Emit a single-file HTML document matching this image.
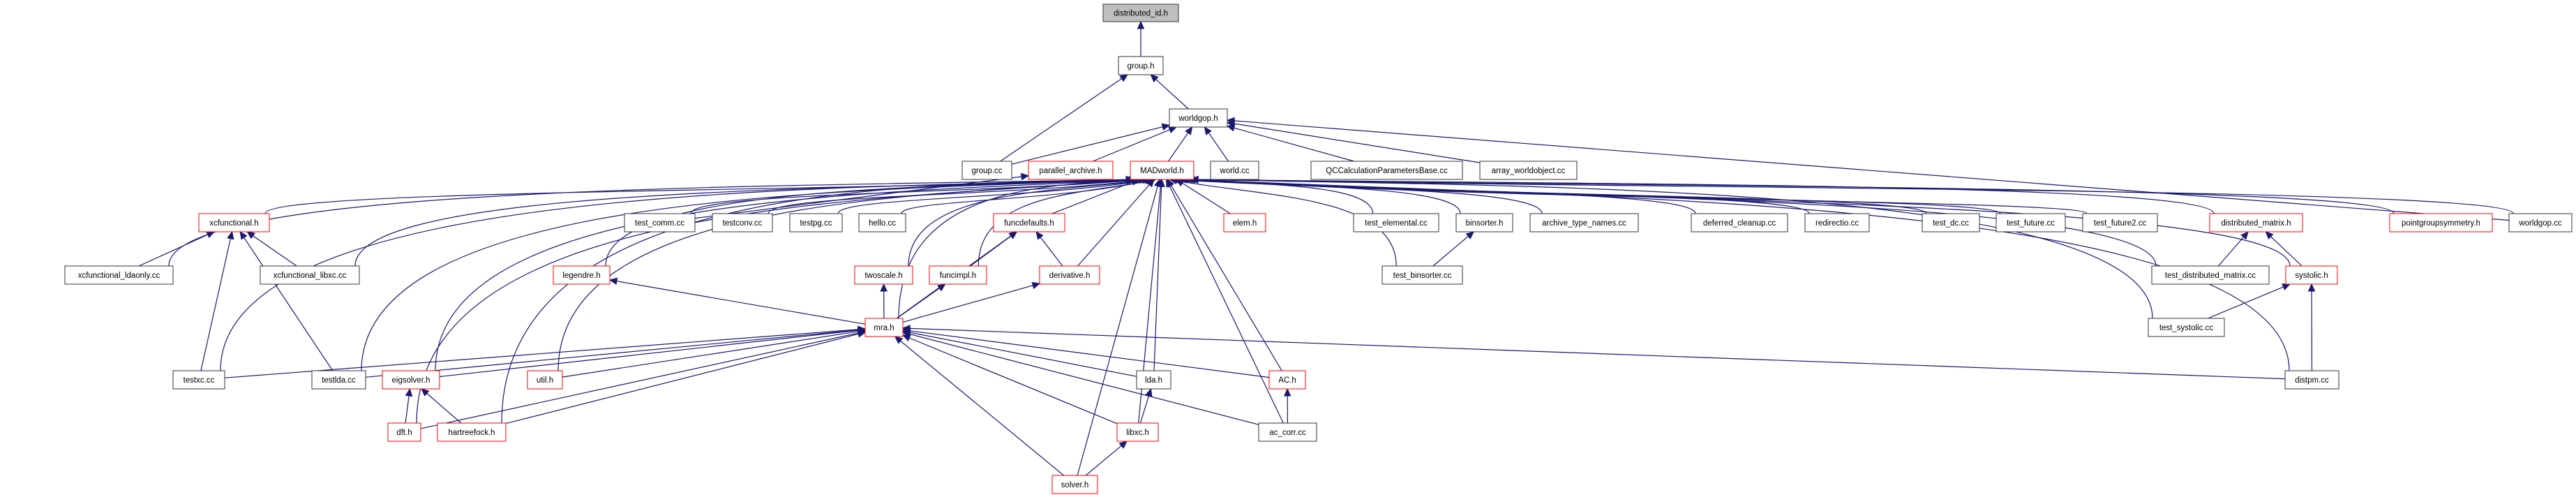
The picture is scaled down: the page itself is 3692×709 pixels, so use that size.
<!DOCTYPE html>
<html><head><meta charset="utf-8"><style>
html,body{margin:0;padding:0;background:#fff;}
svg{display:block;}
text{font-family:"Liberation Sans",sans-serif;font-size:11.5px;fill:#000;}
</style></head><body>
<svg id="s" width="3692" height="709" viewBox="0 0 3692 709" xmlns="http://www.w3.org/2000/svg">
<rect width="3692" height="709" fill="#fff"/>
<g id="edges" stroke="#191970" stroke-width="1.2" fill="none"></g>
<g id="arrows" fill="#191970" stroke="#191970" stroke-width="1"></g>
<g id="nodes">
<g><rect x="1581" y="6" width="108" height="25" fill="#bfbfbf" stroke="#333"/><text x="1635" y="22.5" text-anchor="middle">distributed_id.h</text></g>
<g><rect x="1603" y="81" width="64" height="26" fill="#fff" stroke="#333"/><text x="1635" y="98" text-anchor="middle">group.h</text></g>
<g><rect x="1676" y="156" width="83" height="26" fill="#fff" stroke="#333"/><text x="1717.5" y="173" text-anchor="middle">worldgop.h</text></g>
<g><rect x="1379" y="231" width="71" height="26" fill="#fff" stroke="#333"/><text x="1414.5" y="248" text-anchor="middle">group.cc</text></g>
<g><rect x="1474" y="231" width="121" height="26" fill="#fff" stroke="#f00"/><text x="1534.5" y="248" text-anchor="middle">parallel_archive.h</text></g>
<g><rect x="1620" y="231" width="91" height="26" fill="#fff" stroke="#f00"/><text x="1665.5" y="248" text-anchor="middle">MADworld.h</text></g>
<g><rect x="1735" y="231" width="69" height="26" fill="#fff" stroke="#333"/><text x="1769.5" y="248" text-anchor="middle">world.cc</text></g>
<g><rect x="1879" y="231" width="217" height="26" fill="#fff" stroke="#333"/><text x="1987.5" y="248" text-anchor="middle">QCCalculationParametersBase.cc</text></g>
<g><rect x="2121" y="231" width="139" height="26" fill="#fff" stroke="#333"/><text x="2190.5" y="248" text-anchor="middle">array_worldobject.cc</text></g>
<g><rect x="285" y="306" width="101" height="26" fill="#fff" stroke="#f00"/><text x="335.5" y="323" text-anchor="middle">xcfunctional.h</text></g>
<g><rect x="895" y="306" width="101" height="26" fill="#fff" stroke="#333"/><text x="945.5" y="323" text-anchor="middle">test_comm.cc</text></g>
<g><rect x="1021" y="306" width="86" height="26" fill="#fff" stroke="#333"/><text x="1064" y="323" text-anchor="middle">testconv.cc</text></g>
<g><rect x="1132" y="306" width="75" height="26" fill="#fff" stroke="#333"/><text x="1169.5" y="323" text-anchor="middle">testpg.cc</text></g>
<g><rect x="1231" y="306" width="67" height="26" fill="#fff" stroke="#333"/><text x="1264.5" y="323" text-anchor="middle">hello.cc</text></g>
<g><rect x="1424" y="306" width="102" height="26" fill="#fff" stroke="#f00"/><text x="1475" y="323" text-anchor="middle">funcdefaults.h</text></g>
<g><rect x="1754" y="306" width="60" height="26" fill="#fff" stroke="#f00"/><text x="1784" y="323" text-anchor="middle">elem.h</text></g>
<g><rect x="1940" y="306" width="122" height="26" fill="#fff" stroke="#333"/><text x="2001" y="323" text-anchor="middle">test_elemental.cc</text></g>
<g><rect x="2087" y="306" width="81" height="26" fill="#fff" stroke="#333"/><text x="2127.5" y="323" text-anchor="middle">binsorter.h</text></g>
<g><rect x="2193" y="306" width="155" height="26" fill="#fff" stroke="#333"/><text x="2270.5" y="323" text-anchor="middle">archive_type_names.cc</text></g>
<g><rect x="2424" y="306" width="138" height="26" fill="#fff" stroke="#333"/><text x="2493" y="323" text-anchor="middle">deferred_cleanup.cc</text></g>
<g><rect x="2587" y="306" width="92" height="26" fill="#fff" stroke="#333"/><text x="2633" y="323" text-anchor="middle">redirectio.cc</text></g>
<g><rect x="2755" y="306" width="82" height="26" fill="#fff" stroke="#333"/><text x="2796" y="323" text-anchor="middle">test_dc.cc</text></g>
<g><rect x="2861" y="306" width="99" height="26" fill="#fff" stroke="#333"/><text x="2910.5" y="323" text-anchor="middle">test_future.cc</text></g>
<g><rect x="2985" y="306" width="107" height="26" fill="#fff" stroke="#333"/><text x="3038.5" y="323" text-anchor="middle">test_future2.cc</text></g>
<g><rect x="3167" y="306" width="133" height="26" fill="#fff" stroke="#f00"/><text x="3233.5" y="323" text-anchor="middle">distributed_matrix.h</text></g>
<g><rect x="3425" y="306" width="147" height="26" fill="#fff" stroke="#f00"/><text x="3498.5" y="323" text-anchor="middle">pointgroupsymmetry.h</text></g>
<g><rect x="3596" y="306" width="90" height="26" fill="#fff" stroke="#333"/><text x="3641" y="323" text-anchor="middle">worldgop.cc</text></g>
<g><rect x="93" y="381" width="155" height="26" fill="#fff" stroke="#333"/><text x="170.5" y="398" text-anchor="middle">xcfunctional_ldaonly.cc</text></g>
<g><rect x="373" y="381" width="142" height="26" fill="#fff" stroke="#333"/><text x="444" y="398" text-anchor="middle">xcfunctional_libxc.cc</text></g>
<g><rect x="793" y="381" width="81" height="26" fill="#fff" stroke="#f00"/><text x="833.5" y="398" text-anchor="middle">legendre.h</text></g>
<g><rect x="1225" y="381" width="83" height="26" fill="#fff" stroke="#f00"/><text x="1266.5" y="398" text-anchor="middle">twoscale.h</text></g>
<g><rect x="1332" y="381" width="82" height="26" fill="#fff" stroke="#f00"/><text x="1373" y="398" text-anchor="middle">funcimpl.h</text></g>
<g><rect x="1490" y="381" width="86" height="26" fill="#fff" stroke="#f00"/><text x="1533" y="398" text-anchor="middle">derivative.h</text></g>
<g><rect x="1981" y="381" width="115" height="26" fill="#fff" stroke="#333"/><text x="2038.5" y="398" text-anchor="middle">test_binsorter.cc</text></g>
<g><rect x="3084" y="381" width="168" height="26" fill="#fff" stroke="#333"/><text x="3168" y="398" text-anchor="middle">test_distributed_matrix.cc</text></g>
<g><rect x="3276" y="381" width="74" height="26" fill="#fff" stroke="#f00"/><text x="3313" y="398" text-anchor="middle">systolic.h</text></g>
<g><rect x="1240" y="456" width="54" height="26" fill="#fff" stroke="#f00"/><text x="1267" y="473" text-anchor="middle">mra.h</text></g>
<g><rect x="3079" y="456" width="109" height="26" fill="#fff" stroke="#333"/><text x="3133.5" y="473" text-anchor="middle">test_systolic.cc</text></g>
<g><rect x="248" y="531" width="74" height="26" fill="#fff" stroke="#333"/><text x="285" y="548" text-anchor="middle">testxc.cc</text></g>
<g><rect x="447" y="531" width="77" height="26" fill="#fff" stroke="#333"/><text x="485.5" y="548" text-anchor="middle">testlda.cc</text></g>
<g><rect x="548" y="531" width="82" height="26" fill="#fff" stroke="#f00"/><text x="589" y="548" text-anchor="middle">eigsolver.h</text></g>
<g><rect x="756" y="531" width="50" height="26" fill="#fff" stroke="#f00"/><text x="781" y="548" text-anchor="middle">util.h</text></g>
<g><rect x="1629" y="531" width="49" height="26" fill="#fff" stroke="#333"/><text x="1653.5" y="548" text-anchor="middle">lda.h</text></g>
<g><rect x="1819" y="531" width="52" height="26" fill="#fff" stroke="#f00"/><text x="1845" y="548" text-anchor="middle">AC.h</text></g>
<g><rect x="3275" y="531" width="77" height="26" fill="#fff" stroke="#333"/><text x="3313.5" y="548" text-anchor="middle">distpm.cc</text></g>
<g><rect x="556" y="606" width="47" height="26" fill="#fff" stroke="#f00"/><text x="579.5" y="623" text-anchor="middle">dft.h</text></g>
<g><rect x="627" y="606" width="98" height="26" fill="#fff" stroke="#f00"/><text x="676" y="623" text-anchor="middle">hartreefock.h</text></g>
<g><rect x="1601" y="606" width="59" height="26" fill="#fff" stroke="#f00"/><text x="1630.5" y="623" text-anchor="middle">libxc.h</text></g>
<g><rect x="1804" y="606" width="83" height="26" fill="#fff" stroke="#333"/><text x="1845.5" y="623" text-anchor="middle">ac_corr.cc</text></g>
<g><rect x="1508" y="681" width="65" height="26" fill="#fff" stroke="#f00"/><text x="1540.5" y="698" text-anchor="middle">solver.h</text></g>
</g>
</svg>
<script>
(function(){
var R=[5,81,156,231,306,381,456,531,606,681];
var N={did:[1581,1689,0],grh:[1603,1667,1],wgh:[1676,1759,2],gcc:[1379,1450,3],par:[1474,1595,3],mad:[1620,1711,3],wcc:[1735,1804,3],qcc:[1879,2096,3],awo:[2121,2260,3],
xcf:[285,386,4],tcm:[895,996,4],tcv:[1021,1107,4],tpg:[1132,1207,4],hel:[1231,1298,4],fdf:[1424,1526,4],elm:[1754,1814,4],tel:[1940,2062,4],bsh:[2087,2168,4],atn:[2193,2348,4],dcl:[2424,2562,4],rio:[2587,2679,4],tdc:[2755,2837,4],tfu:[2861,2960,4],tf2:[2985,3092,4],dmh:[3167,3300,4],pgs:[3425,3572,4],wgc:[3596,3686,4],
xlo:[93,248,5],xlx:[373,515,5],leg:[793,874,5],tws:[1225,1308,5],fim:[1332,1414,5],der:[1490,1576,5],tbs:[1981,2096,5],tdm:[3084,3252,5],sys:[3276,3350,5],
mra:[1240,1294,6],tsy:[3079,3188,6],txc:[248,322,7],tld:[447,524,7],eig:[548,630,7],utl:[756,806,7],lda:[1629,1678,7],ach:[1819,1871,7],dpm:[3275,3352,7],
dft:[556,603,8],hfk:[627,725,8],lxc:[1601,1660,8],acc:[1804,1887,8],slv:[1508,1573,9]};
var E="grh did,gcc grh,wgh grh,gcc wgh,par wgh,mad wgh,wcc wgh,qcc wgh,awo wgh,wgc wgh,"+
"xlo mad,xlx mad,xcf mad,tcm mad,tcv mad,tpg mad,hel mad,fdf mad,elm mad,tel mad,bsh mad,atn mad,dcl mad,rio mad,tdc mad,tfu mad,tf2 mad,dmh mad,pgs mad,wgc mad,tws mad,fim mad,der mad,tbs mad,tdm mad,sys mad,mra mad,tsy mad,txc mad,tld mad,eig mad,utl mad,lda mad,ach mad,dpm mad,dft mad,hfk mad,lxc mad,acc mad,slv mad,leg mad,tcm par,"+
"xlo xcf,xlx xcf,txc xcf,tld xcf,fim fdf,der fdf,mra fdf,mra tws,mra fim,mra der,mra leg,"+
"txc mra,tld mra,eig mra,utl mra,dft mra,hfk mra,lda mra,lxc mra,slv mra,ach mra,acc mra,dpm mra,"+
"dft eig,hfk eig,lxc lda,slv lxc,acc ach,tbs bsh,tdm dmh,sys dmh,tsy sys,dpm sys";
function box(k){var n=N[k];return {x1:n[0],x2:n[1],y1:R[n[2]],y2:R[n[2]]+26,cx:(n[0]+n[1])/2,cy:R[n[2]]+13};}
function clip(b,dx,dy){var hw=(b.x2-b.x1)/2,hh=13,t=1e9;
 if(dx!==0)t=Math.min(t,hw/Math.abs(dx)); if(dy!==0)t=Math.min(t,hh/Math.abs(dy));
 return [b.cx+dx*t,b.cy+dy*t];}
var ns="http://www.w3.org/2000/svg",eg=document.getElementById('edges'),ag=document.getElementById('arrows');
function arrow(bx,by,ux,uy){var ex=bx-ux*10,ey=by-uy*10,px=-uy*4.5,py=ux*4.5;
 var g=document.createElementNS(ns,'polygon');
 g.setAttribute('points',bx.toFixed(1)+','+by.toFixed(1)+' '+(ex+px).toFixed(1)+','+(ey+py).toFixed(1)+' '+(ex-px).toFixed(1)+','+(ey-py).toFixed(1));
 ag.appendChild(g);return [ex,ey];}
function path(d){var l=document.createElementNS(ns,'path');l.setAttribute('d',d);eg.appendChild(l);}
var cnt=0;
E.split(',').forEach(function(p){p=p.split(' ');var s=box(p[0]),t=box(p[1]);
 var dx=t.cx-s.cx,dy=t.cy-s.cy;
 if(p[1]==='mad' && Math.abs(dx)>200){
  cnt++;
  var sx=s.cx+Math.max(-(s.x2-s.x1)/2+6,Math.min((s.x2-s.x1)/2-6,dx*0.1)), sy=s.y1;
  var band=262+(cnt%8)*3.5;
  var ex=Math.max(1624,Math.min(1707,1665.5-dx*0.03)), ey=257;
  var c2x=ex-dx*0.35, c2y=band+2;
  var vx=ex-c2x,vy=ey-c2y,L=Math.hypot(vx,vy);vx/=L;vy/=L;
  var b=arrow(ex,ey,vx,vy);
  path('M'+sx.toFixed(1)+','+sy+'C'+sx.toFixed(1)+','+band+' '+c2x.toFixed(1)+','+c2y+' '+b[0].toFixed(1)+','+b[1].toFixed(1));
  return;}
 var a=clip(s,dx,dy),b=clip(t,-dx,-dy);
 var L=Math.hypot(b[0]-a[0],b[1]-a[1]),ux=(b[0]-a[0])/L,uy=(b[1]-a[1])/L;
 var e=arrow(b[0],b[1],ux,uy);
 path('M'+a[0].toFixed(1)+','+a[1].toFixed(1)+'L'+e[0].toFixed(1)+','+e[1].toFixed(1));});
})();
</script>
</body></html>
